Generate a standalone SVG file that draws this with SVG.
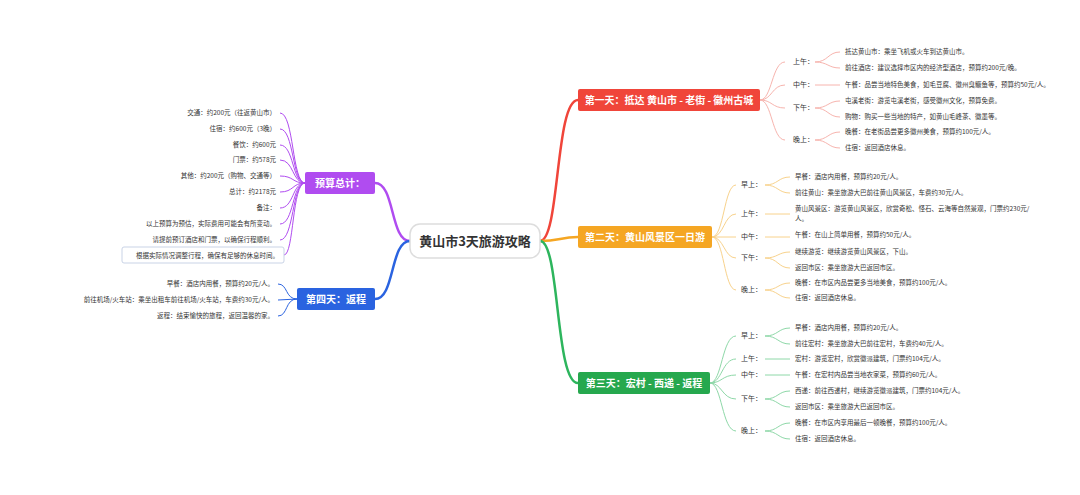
<svg xmlns="http://www.w3.org/2000/svg" width="1080" height="495" viewBox="0 0 1080 495">
<style>
text{font-family:"Noto Sans CJK SC","Noto Sans",sans-serif;}
.leaf{font-size:6.5px;fill:#333;}
.t{font-size:7px;fill:#333;}
.br{font-size:10px;font-weight:bold;fill:#fff;}
.c{fill:none;stroke-width:1;}
.m{fill:none;stroke-width:2.5;}
.r{stroke:#f0453a}.o{stroke:#f5a623}.g{stroke:#2db55d}.p{stroke:#b04cf0}.b{stroke:#2a63e0}
.cl{stroke:#f7b4ae}.ol{stroke:#f8d28c}.gl{stroke:#8ed8a8}.pl{stroke:#b04cf0}.bl{stroke:#2a63e0}
</style>
<rect width="1080" height="495" fill="#fff"/>
<g id="connectors">
<path class="m r" d="M540,241 C560,241 555,100 578,100"/>
<path class="m o" d="M540,241 C560,241 560,237 578,237"/>
<path class="m g" d="M540,241 C560,241 555,383 578,383"/>
<path class="m p" d="M410,241 C390,241 395,183 375,183"/>
<path class="m b" d="M410,241 C390,241 395,299 375,299"/>
<g class="c cl">
<path d="M760,100 C772,100 772,62 785,62"/><path d="M760,100 C772,100 772,85 785,85"/><path d="M760,100 C772,100 772,108 785,108"/><path d="M760,100 C772,100 772,140 785,140"/>
<path d="M815,62 C828,62 828,52 840,52"/><path d="M815,62 C828,62 828,68 840,68"/><path d="M815,85 L840,85"/>
<path d="M815,108 C828,108 828,101 840,101"/><path d="M815,108 C828,108 828,117 840,117"/>
<path d="M815,140 C828,140 828,132 840,132"/><path d="M815,140 C828,140 828,148 840,148"/>
</g>
<g class="c ol">
<path d="M712,237 C724,237 724,185 736,185"/><path d="M712,237 C724,237 724,214 736,214"/><path d="M712,237 L736,237"/><path d="M712,237 C724,237 724,258 736,258"/><path d="M712,237 C724,237 724,290 736,290"/>
<path d="M765,185 C778,185 778,177 790,177"/><path d="M765,185 C778,185 778,193 790,193"/><path d="M765,214 L790,214"/><path d="M765,237 L790,237"/>
<path d="M765,258 C778,258 778,252 790,252"/><path d="M765,258 C778,258 778,268 790,268"/>
<path d="M765,290 C778,290 778,283 790,283"/><path d="M765,290 C778,290 778,298 790,298"/>
</g>
<g class="c gl">
<path d="M710,383 C722,383 722,336 736,336"/><path d="M710,383 C722,383 722,359 736,359"/><path d="M710,383 C722,383 722,375 736,375"/><path d="M710,383 C722,383 722,399 736,399"/><path d="M710,383 C722,383 722,431 736,431"/>
<path d="M765,336 C778,336 778,328 790,328"/><path d="M765,336 C778,336 778,344 790,344"/><path d="M765,359 L790,359"/><path d="M765,375 L790,375"/>
<path d="M765,399 C778,399 778,391 790,391"/><path d="M765,399 C778,399 778,407 790,407"/>
<path d="M765,431 C778,431 778,423 790,423"/><path d="M765,431 C778,431 778,439 790,439"/>
</g>
<g class="c pl">
<path d="M305,183 C292,183 294,113 280,113"/><path d="M305,183 C292,183 294,129 280,129"/><path d="M305,183 C292,183 294,145 280,145"/><path d="M305,183 C292,183 294,160 280,160"/><path d="M305,183 C292,183 294,176 280,176"/><path d="M305,183 C292,183 294,192 280,192"/><path d="M305,183 C292,183 294,208 280,208"/><path d="M305,183 C292,183 294,224 280,224"/><path d="M305,183 C292,183 294,240 280,240"/><path d="M305,183 C292,183 294,255 284,255"/>
</g>
<g class="c bl">
<path d="M297,299 C285,299 288,284 278,284"/><path d="M297,299 L278,300"/><path d="M297,299 C285,299 288,316 278,316"/>
</g>
</g>
<g id="center"><rect x="410" y="224" width="130" height="34" rx="10" fill="#fff" stroke="#ddd" stroke-width="1.5"/><text x="475" y="246" text-anchor="middle" font-size="13" font-weight="bold" fill="#333">黄山市3天旅游攻略</text></g>
<g id="day1"><rect x="578" y="89" width="182" height="22" rx="2" fill="#f0453a"/><text class="br" x="669" y="104" text-anchor="middle">第一天：抵达 黄山市 - 老街 - 徽州古城</text></g>
<g id="day2"><rect x="578" y="226" width="134" height="22" rx="2" fill="#f5a623"/><text class="br" x="645" y="241" text-anchor="middle">第二天：黄山风景区一日游</text></g>
<g id="day3"><rect x="578" y="372" width="132" height="22" rx="2" fill="#26a84e"/><text class="br" x="644" y="387" text-anchor="middle">第三天：宏村 - 西递 - 返程</text></g>
<g id="budget"><rect x="305" y="172" width="70" height="22" rx="2" fill="#b04cf0"/><text class="br" x="340" y="187" text-anchor="middle">预算总计：</text></g>
<g id="day4"><rect x="297" y="288" width="78" height="22" rx="2" fill="#2a63e0"/><text class="br" x="336" y="303" text-anchor="middle">第四天：返程</text></g>
<g id="day1-items" class="t">
<text x="793" y="64">上午：</text><text x="793" y="87">中午：</text><text x="793" y="110">下午：</text><text x="793" y="142">晚上：</text>
<text class="leaf" x="845" y="54">抵达黄山市：乘坐飞机或火车到达黄山市。</text>
<text class="leaf" x="845" y="70">前往酒店：建议选择市区内的经济型酒店，预算约200元/晚。</text>
<text class="leaf" x="845" y="87">午餐：品尝当地特色美食，如毛豆腐、徽州臭鳜鱼等，预算约50元/人。</text>
<text class="leaf" x="845" y="103">屯溪老街：游览屯溪老街，感受徽州文化，预算免费。</text>
<text class="leaf" x="845" y="119">购物：购买一些当地的特产，如黄山毛峰茶、徽墨等。</text>
<text class="leaf" x="845" y="134">晚餐：在老街品尝更多徽州美食，预算约100元/人。</text>
<text class="leaf" x="845" y="150">住宿：返回酒店休息。</text>
</g>
<g id="day2-items" class="t">
<text x="741" y="187">早上：</text><text x="741" y="216">上午：</text><text x="741" y="239">中午：</text><text x="741" y="260">下午：</text><text x="741" y="292">晚上：</text>
<text class="leaf" x="795" y="179">早餐：酒店内用餐，预算约20元/人。</text>
<text class="leaf" x="795" y="195">前往黄山：乘坐旅游大巴前往黄山风景区，车费约30元/人。</text>
<text class="leaf" x="795" y="211">黄山风景区：游览黄山风景区，欣赏奇松、怪石、云海等自然景观，门票约230元/</text>
<text class="leaf" x="795" y="221">人。</text>
<text class="leaf" x="795" y="237">午餐：在山上简单用餐，预算约50元/人。</text>
<text class="leaf" x="795" y="254">继续游览：继续游览黄山风景区，下山。</text>
<text class="leaf" x="795" y="270">返回市区：乘坐旅游大巴返回市区。</text>
<text class="leaf" x="795" y="285">晚餐：在市区内品尝更多当地美食，预算约100元/人。</text>
<text class="leaf" x="795" y="300">住宿：返回酒店休息。</text>
</g>
<g id="day3-items" class="t">
<text x="741" y="338">早上：</text><text x="741" y="361">上午：</text><text x="741" y="377">中午：</text><text x="741" y="401">下午：</text><text x="741" y="433">晚上：</text>
<text class="leaf" x="795" y="330">早餐：酒店内用餐，预算约20元/人。</text>
<text class="leaf" x="795" y="346">前往宏村：乘坐旅游大巴前往宏村，车费约40元/人。</text>
<text class="leaf" x="795" y="361">宏村：游览宏村，欣赏徽派建筑，门票约104元/人。</text>
<text class="leaf" x="795" y="377">午餐：在宏村内品尝当地农家菜，预算约60元/人。</text>
<text class="leaf" x="795" y="393">西递：前往西递村，继续游览徽派建筑，门票约104元/人。</text>
<text class="leaf" x="795" y="409">返回市区：乘坐旅游大巴返回市区。</text>
<text class="leaf" x="795" y="425">晚餐：在市区内享用最后一顿晚餐，预算约100元/人。</text>
<text class="leaf" x="795" y="441">住宿：返回酒店休息。</text>
</g>
<g id="budget-items" class="leaf" text-anchor="end">
<text x="276" y="115">交通：约200元（往返黄山市）</text>
<text x="276" y="131">住宿：约600元（3晚）</text>
<text x="276" y="147">餐饮：约600元</text>
<text x="276" y="162">门票：约578元</text>
<text x="276" y="178">其他：约200元（购物、交通等）</text>
<text x="276" y="194">总计：约2178元</text>
<text x="276" y="210">备注：</text>
<text x="276" y="226">以上预算为预估，实际费用可能会有所变动。</text>
<text x="276" y="242">请提前预订酒店和门票，以确保行程顺利。</text>
<rect x="122" y="247" width="162" height="16" rx="2" fill="#fff" stroke="#c9d3e6" stroke-width="1"/>
<text x="279" y="258">根据实际情况调整行程，确保有足够的休息时间。</text>
</g>
<g id="day4-items" class="leaf" text-anchor="end">
<text x="274" y="286">早餐：酒店内用餐，预算约20元/人。</text>
<text x="274" y="302">前往机场/火车站：乘坐出租车前往机场/火车站，车费约30元/人。</text>
<text x="274" y="318">返程：结束愉快的旅程，返回温馨的家。</text>
</g>
</svg>
